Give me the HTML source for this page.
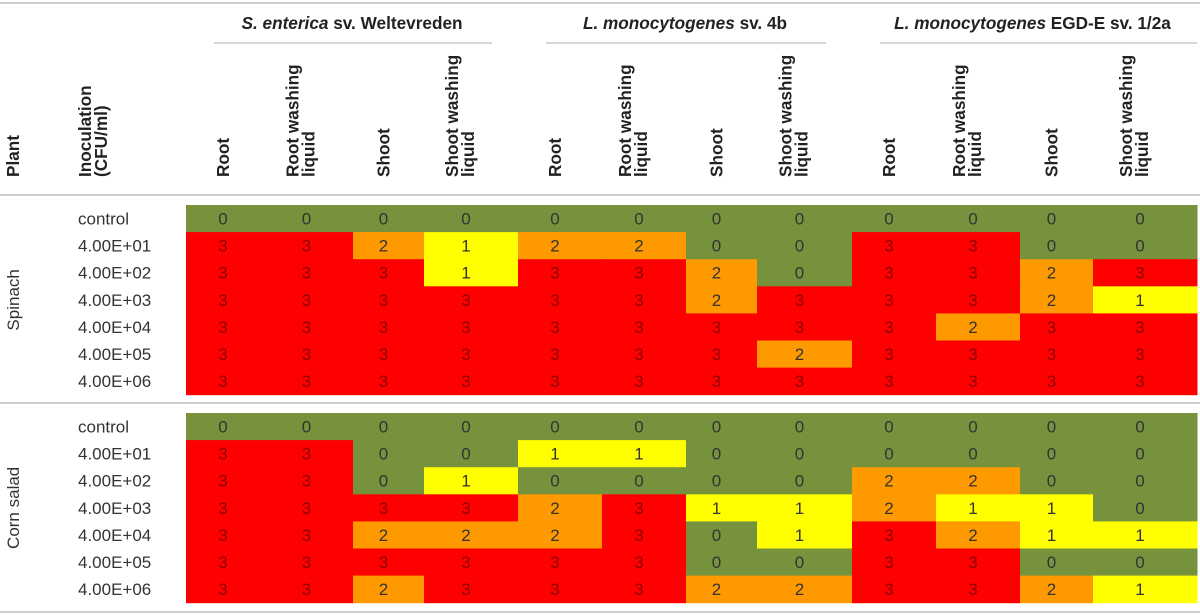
<!DOCTYPE html>
<html><head><meta charset="utf-8"><style>
html,body{margin:0;padding:0;background:#fff;width:1200px;height:616px;overflow:hidden}
svg{display:block;font-family:"Liberation Sans",sans-serif}
</style></head><body>
<svg id="chart" width="1200" height="616" viewBox="0 0 1200 616"></svg>
<script>
const groups = ["S. enterica|sv. Weltevreden","L. monocytogenes|sv. 4b","L. monocytogenes|EGD-E sv. 1/2a"];
const parts = [["Root"],["Root washing","liquid"],["Shoot"],["Shoot washing","liquid"]];
const plants = ["Spinach","Corn salad"];
const inocs = ["control","4.00E+01","4.00E+02","4.00E+03","4.00E+04","4.00E+05","4.00E+06"];
const spinach = [
[0,0,0,0,0,0,0,0,0,0,0,0],
[3,3,2,1,2,2,0,0,3,3,0,0],
[3,3,3,1,3,3,2,0,3,3,2,3],
[3,3,3,3,3,3,2,3,3,3,2,1],
[3,3,3,3,3,3,3,3,3,2,3,3],
[3,3,3,3,3,3,3,2,3,3,3,3],
[3,3,3,3,3,3,3,3,3,3,3,3]];
const cornSalad = [
[0,0,0,0,0,0,0,0,0,0,0,0],
[3,3,0,0,1,1,0,0,0,0,0,0],
[3,3,0,1,0,0,0,0,2,2,0,0],
[3,3,3,3,2,3,1,1,2,1,1,0],
[3,3,2,2,2,3,0,1,3,2,1,1],
[3,3,3,3,3,3,0,0,3,3,0,0],
[3,3,2,3,3,3,2,2,3,3,2,1]];
const blocks = [spinach, cornSalad];

const svg = document.getElementById('chart');
const NS = 'http://www.w3.org/2000/svg';
function mk(tag, attrs, parent){const e=document.createElementNS(NS,tag);for(const k in attrs)e.setAttribute(k,attrs[k]);(parent||svg).appendChild(e);return e;}
const colEdges=[186,270,353,424,518,602,686,757,852,936,1020,1093,1197];
const colX = i => colEdges[i];
const colW = i => colEdges[i+1]-colEdges[i];
const blockTop=[205,413], rowH=27.1;
const rowY=(b,r)=>blockTop[b]+r*rowH;
const fills=["#76923c","#ffff00","#ff9900","#ff0000"];
const txtCol=["#333","#333","#333","#8a0000"];
const HF=17.2, BF=17;

let l;
[[3,0,1200],[195,0,1200],[403,0,1200],[612,0,1200]].forEach((a,i)=>{
 l=mk('line',{x1:a[1],x2:a[2],y1:a[0],y2:a[0],stroke:'#bdbdbd','stroke-width':1.5});
 
 
});
groups.forEach((g,gi)=>{
 const x0=colX(gi*4), x1=colX(gi*4+4);
 l=mk('line',{x1:x0+28,x2:x1-(gi==2?0:26),y1:43,y2:43,stroke:'#bdbdbd','stroke-width':1.2});
 
 
 const [it,rest]=g.split('|');
 const t=mk('text',{x:(x0+x1)/2+(gi==2?8:0),y:29,'text-anchor':'middle','font-size':HF,'font-weight':'bold',fill:'#222'});
 
 
 const a=mk('tspan',{'font-style':'italic'},t);a.textContent=it;
 const b=mk('tspan',{},t);b.textContent=' '+rest;
 parts.forEach((p,pi)=>{
  const ci=gi*4+pi, c=colX(ci)+colW(ci)/2;
  const xs = p.length==1?[c+1]:[c-13,c+3];
  p.forEach((s,si)=>{
   const tt=mk('text',{x:0,y:0,transform:`translate(${xs[si]},177) rotate(-90)`,'font-size':HF,'font-weight':'bold',fill:'#222'});
   
   
   tt.textContent=s;
  });
 });
});
let h=mk('text',{transform:'translate(19,177) rotate(-90)','font-size':HF,'font-weight':'bold',fill:'#222'});


h.textContent='Plant';
[["Inoculation",91],["(CFU/ml)",107]].forEach(a=>{
 const e=mk('text',{transform:`translate(${a[1]},177) rotate(-90)`,'font-size':HF,'font-weight':'bold',fill:'#222'});
 
 
 e.textContent=a[0];
});
blocks.forEach((data,b)=>{
 const pl=mk('text',{transform:`translate(19,${rowY(b,3.5)}) rotate(-90)`,'text-anchor':'middle','font-size':BF,fill:'#333'});
 
 
 pl.textContent=plants[b];
 data.forEach((row,r)=>{
  const lab=mk('text',{x:78,y:rowY(b,r)+19.5,'font-size':BF,fill:'#333'});
  
  
  lab.textContent=inocs[r];
  row.forEach((v,c)=>{
   const rc=mk('rect',{x:colX(c),y:rowY(b,r),width:colW(c)+0.5,height:rowH+0.5,fill:fills[v]});
   
   
   const tx=mk('text',{x:colX(c)+colW(c)/2-5,y:rowY(b,r)+19.5,'text-anchor':'middle','font-size':BF,fill:txtCol[v]});
   
   
   tx.textContent=v;
  });
 });
});
</script>
</body></html>
